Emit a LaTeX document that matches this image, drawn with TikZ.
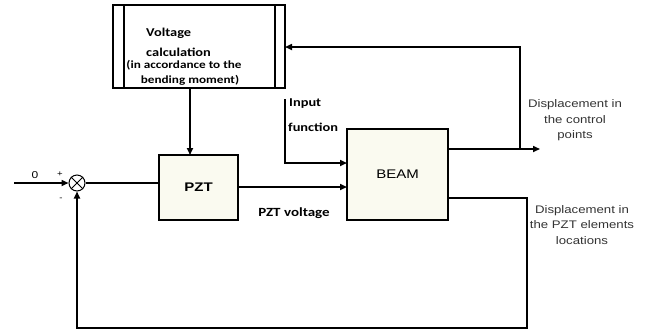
\documentclass[tikz,border=0pt]{standalone}
\usepackage{fontspec}
\setmainfont[FakeStretch=1.2]{Liberation Sans}
\newfontfamily\boldlbl[FakeStretch=1.2]{Carlito}
\usetikzlibrary{arrows.meta}
\definecolor{boxfill}{HTML}{FAFAF0}
\definecolor{txtgray}{HTML}{333333}
\tikzset{
  blk/.style={draw, line width=1.6pt, fill=boxfill, minimum width=#1, inner sep=0pt},
  conn/.style={line width=1.6pt},
  arr/.style={line width=1.6pt, -{Triangle[length=7pt,width=6pt]}},
  lbl/.style={font=\fontsize{11}{15.5}\selectfont, text=txtgray, align=center, inner sep=0pt},
  blbl/.style={font=\boldlbl\bfseries\fontsize{12}{19}\selectfont, inner sep=0pt},
  sblbl/.style={font=\boldlbl\bfseries\fontsize{11}{13}\selectfont, inner sep=0pt},
}
\begin{document}
\begin{tikzpicture}[x=1pt,y=-1pt]
\useasboundingbox (0,0) rectangle (658,333);
% blocks
\node[blk=172pt, minimum height=83pt, fill=white] (vc) at (199,46.5) {};
\draw[line width=1.2pt] (124,5) -- (124,88) (275,5) -- (275,88);
\node[blk=79pt, minimum height=65pt] (pzt) at (198.5,187.5) {\fontsize{12.5}{14}\selectfont\bfseries PZT};
\node[blk=101pt, minimum height=91pt] (beam) at (397.5,174.5) {\fontsize{12.5}{14}\selectfont BEAM};
\node[draw, circle, line width=1pt, minimum size=16pt, inner sep=0pt] (sum) at (77,183) {};
\draw[line width=0.8pt] (sum.north west) -- (sum.south east) (sum.north east) -- (sum.south west);
% texts in voltage block
\node[blbl, anchor=west] (vct1) at (146,33) {Voltage};
\node[blbl, anchor=west] (vct2) at (146,52) {calculation};
\node[sblbl] (vct3) at (184,65) {(in accordance to the};
\node[sblbl] (vct4) at (190,80) {bending moment)};
% coordinates
\coordinate (in0) at (14,183);
\coordinate (vcb) at (190,88);
\coordinate (pzttop) at (190,155);
\coordinate (ifs) at (285,99);
\coordinate (ifc) at (285,163);
\coordinate (ifb) at (347,163);
\coordinate (po1) at (238,187);
\coordinate (po2) at (347,187);
\coordinate (bo1) at (448,149);
\coordinate (bo1e) at (540,149);
\coordinate (tap) at (520,149);
\coordinate (tapu) at (520,47);
\coordinate (vce) at (285,47);
\coordinate (bo2) at (448,198);
\coordinate (c1) at (527,198);
\coordinate (c2) at (527,328);
\coordinate (c3) at (77,328);
% connectors
\draw[arr] (in0) -- (sum.west);
\draw[conn] (sum.east) -- (sum.east -| pzt.west);
\draw[arr] (vcb) -- (pzttop);
\draw[arr] (po1) -- (po2);
\draw[arr] (ifs) -- (ifc) -- (ifb);
\draw[arr] (bo1) -- (bo1e);
\draw[arr] (tap) -- (tapu) -- (vce);
\draw[arr] (bo2) -- (c1) -- (c2) -- (c3) -- (sum.south);
% labels
\node[font=\fontsize{10}{11}\selectfont] (zero) at (35,175) {0};
\node[font=\fontsize{8}{9}\selectfont] (plus) at (60,174) {+};
\node[font=\fontsize{8}{9}\selectfont] (minus) at (61,199) {-};
\node[blbl, anchor=west] (if1) at (289,104) {Input};
\node[blbl, anchor=west] (if2) at (288,127) {function};
\node[blbl, font=\boldlbl\bfseries\fontsize{12.5}{14}\selectfont] (pztv) at (294,213) {PZT voltage};
\node[lbl] (d1) at (575,120.5) {Displacement in\\the control\\points};
\node[lbl] (d2) at (582,225) {Displacement in\\the PZT elements\\locations};
\end{tikzpicture}
\end{document}
